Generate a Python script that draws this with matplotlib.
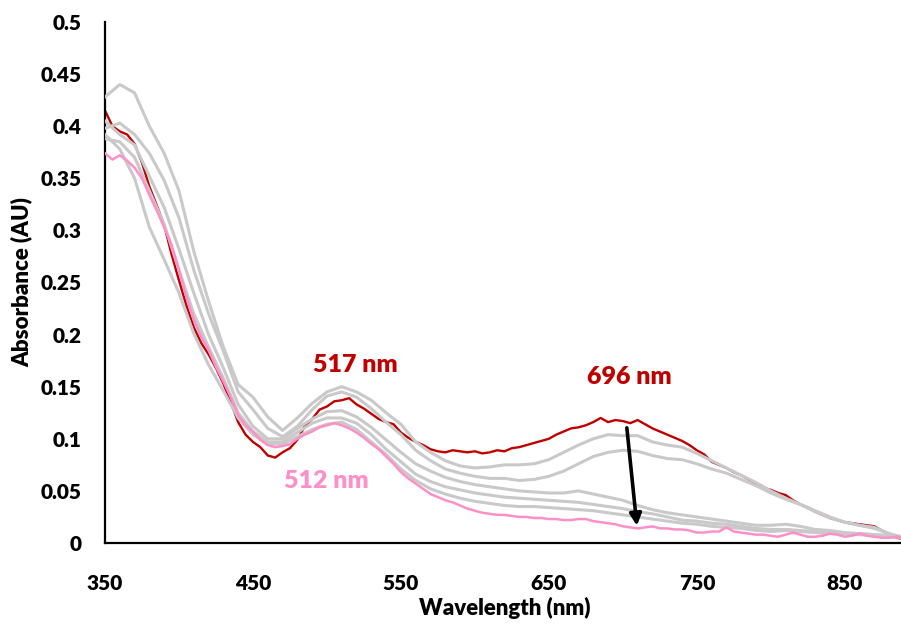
import numpy as np
import matplotlib
matplotlib.use("Agg")
import matplotlib.pyplot as plt

# ---------------- data ----------------
wl_fine = list(range(350, 891, 5))     # red / pink traces
wl_coarse = list(range(350, 891, 10))  # gray traces

red_first = [
    0.415, 0.400, 0.395, 0.392, 0.383, 0.365, 0.342, 0.324, 0.305, 0.277,
    0.252, 0.228, 0.207, 0.192, 0.181, 0.168, 0.153, 0.135, 0.116, 0.104,
    0.097, 0.092, 0.084, 0.082, 0.087, 0.091, 0.099, 0.112, 0.119, 0.128,
    0.131, 0.136, 0.137, 0.139, 0.133, 0.129, 0.124, 0.119, 0.116, 0.114,
    0.106, 0.101, 0.097, 0.094, 0.090, 0.088, 0.087, 0.089, 0.088, 0.087,
    0.088, 0.086, 0.087, 0.089, 0.088, 0.091, 0.092, 0.094, 0.096, 0.098,
    0.100, 0.104, 0.107, 0.110, 0.111, 0.113, 0.116, 0.120, 0.116, 0.118,
    0.117, 0.115, 0.118, 0.114, 0.110, 0.107, 0.104, 0.101, 0.098, 0.094,
    0.089, 0.085, 0.078, 0.075, 0.072, 0.068, 0.065, 0.061, 0.057, 0.053,
    0.051, 0.048, 0.046, 0.041, 0.037, 0.034, 0.030, 0.027, 0.024, 0.022,
    0.020, 0.019, 0.018, 0.017, 0.016, 0.012, 0.008, 0.005, 0.004,
]

pink_last = [
    0.374, 0.368, 0.372, 0.367, 0.360, 0.350, 0.334, 0.319, 0.303, 0.286,
    0.262, 0.236, 0.214, 0.198, 0.185, 0.169, 0.155, 0.140, 0.123, 0.113,
    0.107, 0.099, 0.094, 0.092, 0.093, 0.095, 0.100, 0.104, 0.107, 0.111,
    0.113, 0.115, 0.113, 0.110, 0.106, 0.101, 0.095, 0.090, 0.083, 0.076,
    0.068, 0.062, 0.057, 0.052, 0.047, 0.044, 0.041, 0.039, 0.036, 0.033,
    0.031, 0.029, 0.028, 0.027, 0.027, 0.026, 0.025, 0.025, 0.024, 0.024,
    0.023, 0.023, 0.022, 0.022, 0.023, 0.023, 0.021, 0.020, 0.019, 0.018,
    0.016, 0.015, 0.014, 0.015, 0.016, 0.014, 0.014, 0.013, 0.013, 0.012,
    0.010, 0.010, 0.011, 0.011, 0.015, 0.011, 0.010, 0.009, 0.008, 0.008,
    0.007, 0.006, 0.008, 0.010, 0.008, 0.006, 0.006, 0.007, 0.009, 0.008,
    0.006, 0.007, 0.009, 0.007, 0.006, 0.005, 0.005, 0.006, 0.005,
]

gray_1 = [
    0.428, 0.440, 0.432, 0.400, 0.374, 0.338, 0.280, 0.232, 0.188, 0.152,
    0.140, 0.121, 0.108, 0.120, 0.134, 0.145, 0.150, 0.145, 0.137, 0.125,
    0.114, 0.097, 0.087, 0.079, 0.074, 0.072, 0.073, 0.075, 0.075, 0.076,
    0.080, 0.087, 0.094, 0.100, 0.104, 0.103, 0.103, 0.097, 0.094, 0.092,
    0.086, 0.079, 0.072, 0.065, 0.058, 0.050, 0.043, 0.037, 0.030, 0.024,
    0.020, 0.017, 0.015, 0.009, 0.005,
]
gray_2 = [
    0.398, 0.403, 0.392, 0.374, 0.348, 0.312, 0.262, 0.220, 0.184, 0.145,
    0.128, 0.110, 0.102, 0.112, 0.128, 0.141, 0.145, 0.140, 0.129, 0.116,
    0.104, 0.089, 0.079, 0.071, 0.067, 0.064, 0.062, 0.062, 0.060, 0.061,
    0.064, 0.069, 0.076, 0.083, 0.087, 0.089, 0.088, 0.084, 0.081, 0.080,
    0.076, 0.071, 0.067, 0.061, 0.055, 0.048, 0.042, 0.037, 0.031, 0.025,
    0.020, 0.017, 0.014, 0.009, 0.005,
]
gray_3 = [
    0.405, 0.392, 0.382, 0.352, 0.322, 0.282, 0.240, 0.200, 0.168, 0.133,
    0.112, 0.100, 0.100, 0.110, 0.119, 0.126, 0.127, 0.121, 0.111, 0.099,
    0.087, 0.076, 0.069, 0.063, 0.059, 0.056, 0.054, 0.052, 0.050, 0.049,
    0.048, 0.048, 0.050, 0.047, 0.044, 0.041, 0.036, 0.032, 0.029, 0.027,
    0.025, 0.023, 0.021, 0.019, 0.017, 0.017, 0.018, 0.016, 0.013, 0.012,
    0.010, 0.009, 0.008, 0.007, 0.006,
]
gray_4 = [
    0.388, 0.385, 0.370, 0.338, 0.306, 0.262, 0.220, 0.188, 0.158, 0.125,
    0.107, 0.097, 0.097, 0.106, 0.115, 0.120, 0.120, 0.115, 0.104, 0.090,
    0.078, 0.066, 0.059, 0.054, 0.051, 0.048, 0.046, 0.044, 0.043, 0.042,
    0.041, 0.040, 0.039, 0.037, 0.035, 0.033, 0.030, 0.028, 0.025, 0.022,
    0.021, 0.019, 0.018, 0.016, 0.014, 0.013, 0.013, 0.012, 0.011, 0.011,
    0.009, 0.009, 0.008, 0.007, 0.006,
]
gray_5 = [
    0.392, 0.378, 0.350, 0.303, 0.272, 0.240, 0.201, 0.171, 0.146, 0.120,
    0.104, 0.095, 0.095, 0.102, 0.109, 0.114, 0.116, 0.109, 0.097, 0.085,
    0.071, 0.060, 0.052, 0.047, 0.043, 0.040, 0.038, 0.036, 0.035, 0.035,
    0.034, 0.033, 0.032, 0.031, 0.029, 0.027, 0.025, 0.023, 0.021, 0.019,
    0.018, 0.016, 0.015, 0.014, 0.012, 0.011, 0.012, 0.011, 0.010, 0.009,
    0.009, 0.008, 0.007, 0.006, 0.005,
]
grays = [gray_1, gray_2, gray_3, gray_4, gray_5]

x_ticks = [350, 450, 550, 650, 750, 850]
y_ticks = [0, 0.05, 0.1, 0.15, 0.2, 0.25, 0.3, 0.35, 0.4, 0.45, 0.5]
y_tick_labels = ["0", "0.05", "0.1", "0.15", "0.2", "0.25", "0.3", "0.35", "0.4", "0.45", "0.5"]

# ---------------- style ----------------
RED = "#C00000"
PINK = "#FF8FC8"
GRAY = "#C9C9C9"
FONT = ["Lato", "DejaVu Sans"]
WEIGHT = 800
plt.rcParams["font.family"] = FONT

W, H = 901, 624
fig = plt.figure(figsize=(W / 100, H / 100), dpi=100)
ax = fig.add_axes([105 / W, 81 / H, 796 / W, 521 / H])

ax.plot(wl_fine, red_first, color=RED, lw=1.7, zorder=2)
for g in grays:
    ax.plot(wl_coarse, g, color=GRAY, lw=2.2, zorder=3)
ax.plot(wl_fine, pink_last, color=PINK, lw=1.8, zorder=4)

ax.set_xlim(350, 888)
ax.set_ylim(0, 0.5)
ax.set_xticks(x_ticks)
ax.set_xticklabels([str(v) for v in x_ticks])
ax.set_yticks(y_ticks)
ax.set_yticklabels(y_tick_labels)
ax.tick_params(axis="both", length=0, labelsize=15)
ax.tick_params(axis="x", pad=22)
ax.tick_params(axis="y", pad=17)
for lab in ax.get_xticklabels() + ax.get_yticklabels():
    lab.set_fontweight(WEIGHT)

for s in ["top", "right"]:
    ax.spines[s].set_visible(False)
for s in ["left", "bottom"]:
    ax.spines[s].set_linewidth(1.6)
    ax.spines[s].set_color("black")

fig.text(505 / W, 1 - 608 / H, "Wavelength (nm)", ha="center", va="center",
         fontsize=16, fontweight=WEIGHT)
fig.text(22 / W, 1 - 282 / H, "Absorbance (AU)", ha="center", va="center",
         fontsize=16, fontweight=WEIGHT, rotation=90)

ax.text(519, 0.171, "517 nm", color=RED, fontsize=18, fontweight=WEIGHT,
        ha="center", va="center")
ax.text(704.7, 0.159, "696 nm", color=RED, fontsize=18, fontweight=WEIGHT,
        ha="center", va="center")
ax.text(499.3, 0.0595, "512 nm", color=PINK, fontsize=18, fontweight=WEIGHT,
        ha="center", va="center")

ax.annotate("", xy=(709.5, 0.0165), xytext=(702.7, 0.1105),
            arrowprops=dict(arrowstyle="-|>,head_length=0.7,head_width=0.35",
                            color="black", lw=2.6, shrinkA=0, shrinkB=0),
            zorder=6)

fig.savefig("out.png", dpi=100)
